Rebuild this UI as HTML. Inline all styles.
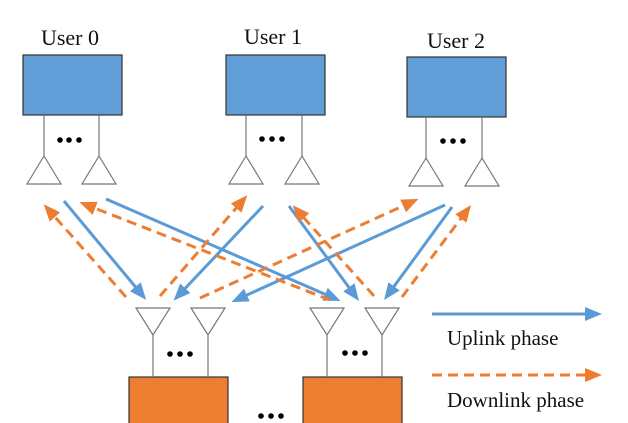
<!DOCTYPE html>
<html><head><meta charset="utf-8"><style>
html,body{margin:0;padding:0;background:#fff;}
svg{display:block;}
text{font-family:"Liberation Serif",serif;fill:#111;}
</style></head><body>
<svg width="628" height="423" viewBox="0 0 628 423" xmlns="http://www.w3.org/2000/svg">
<defs>
<marker id="ab" markerWidth="18" markerHeight="14" refX="12" refY="7" orient="auto" markerUnits="userSpaceOnUse"><path d="M0,0 L17,7 L0,14 Z" fill="#5b9bd5"/></marker>
<marker id="ao" markerWidth="18" markerHeight="14" refX="12" refY="7" orient="auto" markerUnits="userSpaceOnUse"><path d="M0,0 L17,7 L0,14 Z" fill="#ed7d31"/></marker>
</defs>
<g font-size="22">
<text x="70" y="45" text-anchor="middle">User 0</text>
<text x="273" y="44" text-anchor="middle">User 1</text>
<text x="456" y="48" text-anchor="middle">User 2</text>
</g>
<g fill="#619ed8" stroke="#333" stroke-width="1.2">
<rect x="23" y="55" width="99" height="60"/>
<rect x="226" y="55" width="99" height="60"/>
<rect x="407" y="57" width="99" height="60"/>
</g>
<g fill="#ed7d31" stroke="#333" stroke-width="1.2">
<rect x="129" y="377" width="99" height="50"/>
<rect x="303" y="377" width="99" height="50"/>
</g>
<g stroke="#777" stroke-width="1.2" fill="#fff">
<line x1="44" y1="115" x2="44" y2="156"/><line x1="99" y1="115" x2="99" y2="156"/>
<path d="M44,156 L27,184 L61,184 Z"/><path d="M99,156 L82,184 L116,184 Z"/>
<line x1="246" y1="115" x2="246" y2="156"/><line x1="302" y1="115" x2="302" y2="156"/>
<path d="M246,156 L229,184 L263,184 Z"/><path d="M302,156 L285,184 L319,184 Z"/>
<line x1="426" y1="117" x2="426" y2="158"/><line x1="482" y1="117" x2="482" y2="158"/>
<path d="M426,158 L409,186 L443,186 Z"/><path d="M482,158 L465,186 L499,186 Z"/>
<line x1="153" y1="335" x2="153" y2="377"/><line x1="208" y1="335" x2="208" y2="377"/>
<path d="M153,335 L136,308 L170,308 Z"/><path d="M208,335 L191,308 L225,308 Z"/>
<line x1="327" y1="335" x2="327" y2="377"/><line x1="382" y1="335" x2="382" y2="377"/>
<path d="M327,335 L310,308 L344,308 Z"/><path d="M382,335 L365,308 L399,308 Z"/>
</g>
<g fill="#000">
<circle cx="60" cy="140" r="2.8"/><circle cx="69" cy="140" r="2.8"/><circle cx="79" cy="140" r="2.8"/>
<circle cx="262" cy="139" r="2.8"/><circle cx="272" cy="139" r="2.8"/><circle cx="282" cy="139" r="2.8"/>
<circle cx="443" cy="141" r="2.8"/><circle cx="453" cy="141" r="2.8"/><circle cx="463" cy="141" r="2.8"/>
<circle cx="170" cy="354" r="2.8"/><circle cx="180" cy="354" r="2.8"/><circle cx="190" cy="354" r="2.8"/>
<circle cx="345" cy="353" r="2.8"/><circle cx="355" cy="353" r="2.8"/><circle cx="365" cy="353" r="2.8"/>
<circle cx="261" cy="416" r="2.8"/><circle cx="271" cy="416" r="2.8"/><circle cx="281" cy="416" r="2.8"/>
</g>
<g stroke="#5b9bd5" stroke-width="3" fill="none" marker-end="url(#ab)">
<line x1="64" y1="201" x2="143" y2="296"/>
<line x1="106" y1="199" x2="336" y2="299"/>
<line x1="263" y1="206" x2="177" y2="297"/>
<line x1="289" y1="206" x2="356" y2="297"/>
<line x1="445" y1="205" x2="236" y2="300"/>
<line x1="452" y1="207" x2="387" y2="296"/>
<line x1="432" y1="314" x2="597" y2="314"/>
</g>
<g stroke="#ed7d31" stroke-width="3" fill="none" stroke-dasharray="10,6" marker-end="url(#ao)">
<line x1="126" y1="297" x2="47" y2="208"/>
<line x1="330" y1="300" x2="84" y2="204"/>
<line x1="160" y1="296" x2="244" y2="199"/>
<line x1="200" y1="298" x2="414" y2="201"/>
<line x1="374" y1="296" x2="296" y2="209"/>
<line x1="402" y1="297" x2="468" y2="209"/>
<line x1="432" y1="375" x2="597" y2="375"/>
</g>
<g font-size="21">
<text x="447" y="345">Uplink phase</text>
<text x="447" y="407">Downlink phase</text>
</g>
</svg>
</body></html>
